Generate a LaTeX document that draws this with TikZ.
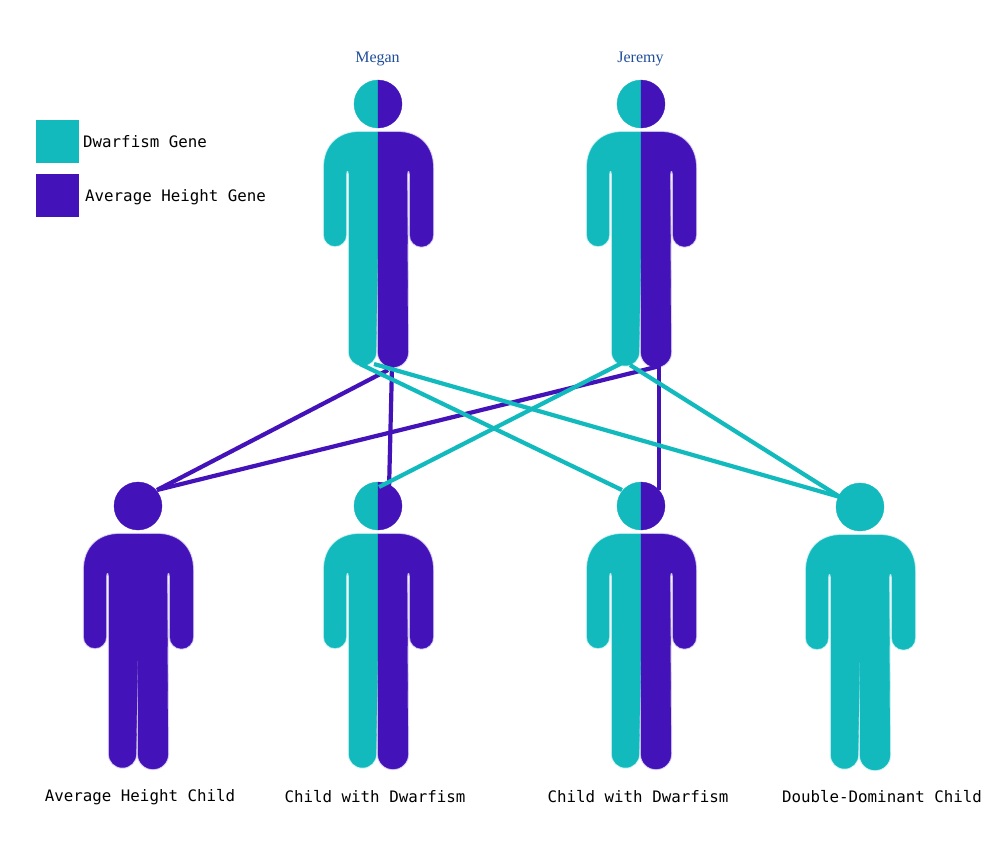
\documentclass[tikz,border=0pt]{standalone}
\usepackage{fontspec}
\setmainfont{Liberation Serif}
\newfontfamily\labelfont{DejaVu Sans Mono}
\definecolor{tealgene}{HTML}{12BABD}
\definecolor{purplegene}{HTML}{4312B8}
\definecolor{namecol}{HTML}{1F4E9A}
\def\leftbody{(0,132) -- (-18,132) .. controls (-40,132) and (-54,146) .. (-54,168)
      -- (-54,235) arc[start angle=180,end angle=0,radius=11]
      -- (-32,174) .. controls (-32,169.5) and (-29,169.5) .. (-29,174)
      -- (-29,352) arc[start angle=180,end angle=0,radius=13.5]
      -- (-1,300) -- (0,245) -- cycle}
\def\rightbody{(0,132) -- (19,132) .. controls (41,132) and (55,146) .. (55,168)
      -- (55,235) arc[start angle=0,end angle=180,radius=11.5]
      -- (32,174) .. controls (32,169.5) and (29,169.5) .. (29,174)
      -- (30,352) arc[start angle=0,end angle=180,radius=15]
      -- (0,245) -- cycle}
\def\lefthead{(0,80) arc[start angle=-90,end angle=-270,radius=24] -- cycle}
\def\righthead{(0,80) arc[start angle=-90,end angle=90,radius=24] -- cycle}
\tikzset{
  halo/.style={draw=#1!20,line width=2.4pt,line join=round},
  halffill/.style={fill=#1,draw=#1,line width=0.3pt,line join=round},
  genelink/.style={line width=4.2pt,draw=#1},
  caption/.style={font=\labelfont\fontsize{15.8}{18}\selectfont,text=black,inner sep=0pt,anchor=base},
  legendcaption/.style={caption,anchor=base west},
  parentname/.style={font=\fontsize{16}{18}\selectfont,text=namecol,inner sep=0pt,anchor=base},
  swatch/.style={fill=#1,draw=none,minimum size=43pt,inner sep=0pt},
  pics/person/.style n args={2}{code={
    \path[halo=#1] \leftbody;
    \path[halo=#2] \rightbody;
    \path[halffill=#1] \leftbody;
    \path[halffill=#1] \lefthead;
    \path[halffill=#2] \rightbody;
    \path[halffill=#2] \righthead;
  }},
}
\begin{document}
\begin{tikzpicture}[x=1pt,y=-1pt]
\useasboundingbox (0,0) rectangle (1000,857);

% connector ends
\coordinate (megan a) at (388,370);
\coordinate (megan b) at (392,366);
\coordinate (megan c) at (360,364);
\coordinate (megan d) at (374,364);
\coordinate (jeremy a) at (622,363);
\coordinate (jeremy b) at (660,366);
\coordinate (jeremy c) at (659,366);
\coordinate (jeremy d) at (630,365);
\coordinate (avg head) at (157,490);
\coordinate (dwarfa left) at (379,487);
\coordinate (dwarfa right) at (389,490);
\coordinate (dwarfb left) at (622,490);
\coordinate (dwarfb right) at (659,490);
\coordinate (double head) at (840,497);

% people
\pic at (378,0) {person={tealgene}{purplegene}};
\pic at (641,0) {person={tealgene}{purplegene}};
\pic at (138,402) {person={purplegene}{purplegene}};
\pic at (378,402) {person={tealgene}{purplegene}};
\pic at (641,402) {person={tealgene}{purplegene}};
\pic at (860,403) {person={tealgene}{tealgene}};

% connectors
\draw[genelink=purplegene] (megan a) -- (avg head);
\draw[genelink=purplegene] (megan b) -- (dwarfa right);
\draw[genelink=purplegene] (jeremy b) -- (avg head);
\draw[genelink=purplegene] (jeremy c) -- (dwarfb right);
\draw[genelink=tealgene] (megan c) -- (dwarfb left);
\draw[genelink=tealgene] (megan d) -- (double head);
\draw[genelink=tealgene] (jeremy a) -- (dwarfa left);
\draw[genelink=tealgene] (jeremy d) -- (double head);

% names
\node[parentname] (megan name) at (377.5,62) {Megan};
\node[parentname] (jeremy name) at (640.5,62) {Jeremy};

% legend
\node[swatch=tealgene] (swatch teal) at (57.5,141) {};
\node[swatch=purplegene] (swatch purple) at (57.5,195.5) {};
\node[legendcaption] (legend teal) at (83,147) {Dwarfism Gene};
\node[legendcaption] (legend purple) at (85,201) {Average Height Gene};

% captions
\node[caption] (cap a) at (140,801) {Average Height Child};
\node[caption] (cap b) at (375,802) {Child with Dwarfism};
\node[caption] (cap c) at (638,802) {Child with Dwarfism};
\node[caption] (cap d) at (882,802) {Double-Dominant Child};
\end{tikzpicture}
\end{document}
